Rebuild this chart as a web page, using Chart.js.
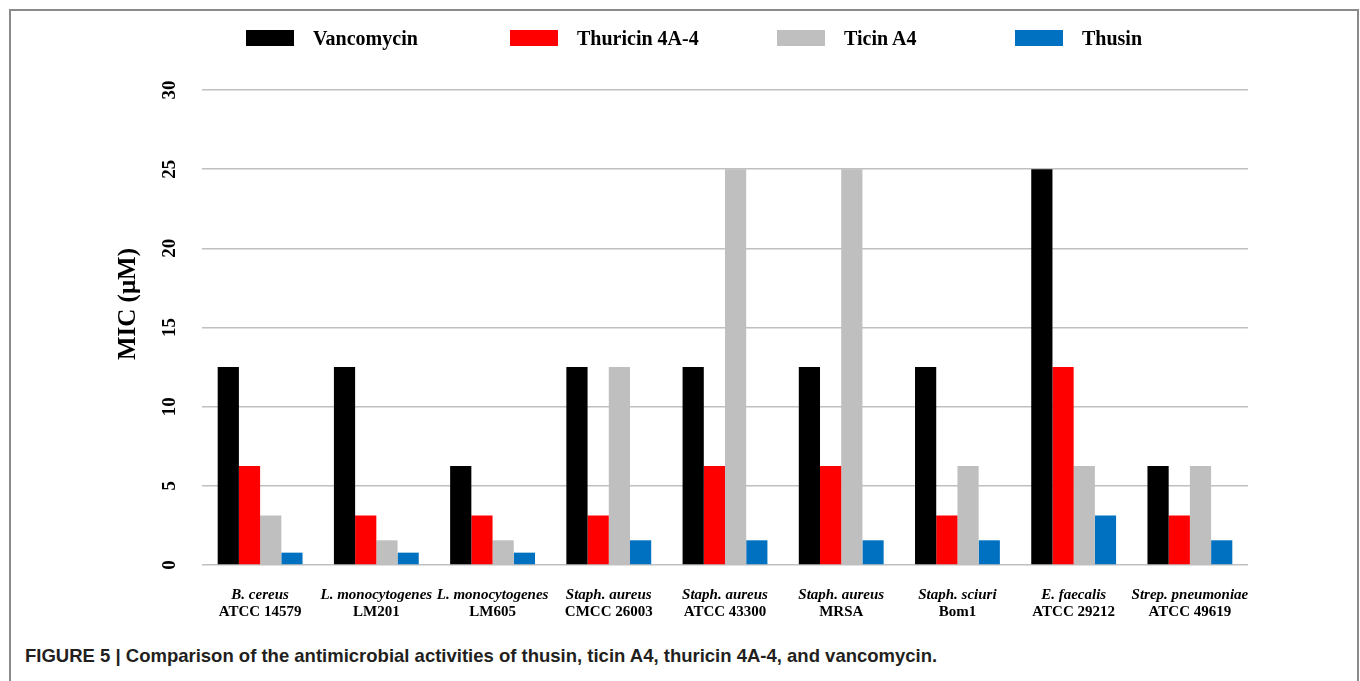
<!DOCTYPE html>
<html>
<head>
<meta charset="utf-8">
<script src="https://cdn.jsdelivr.net/npm/chart.js@4.4.0/dist/chart.umd.min.js"></script>
<style>
    html, body { margin: 0; padding: 0; background: #fff; width: 1360px; height: 681px; overflow: hidden; }
    #frame { position: absolute; left: 9px; top: 9px; width: 1350px; height: 720px; border: 2px solid #8a8a8a; box-sizing: border-box; }
    #chart { position: absolute; left: 0; top: 0; }
    #legend { position: absolute; left: 0; top: 0; width: 1360px; height: 60px; }
    .item { position: absolute; top: 27px; font: bold 20px 'Liberation Serif', 'Times New Roman', serif; color: #000; white-space: nowrap; }
    .item .box { position: absolute; top: 3px; width: 48px; height: 16px; }
    .item .txt { position: absolute; left: 67px; top: 0; line-height: 22px; }
    #caption { position: absolute; left: 25px; top: 645px; font: bold 18.5px 'Liberation Sans', Arial, sans-serif; color: #231f20; white-space: nowrap; }
</style>
</head>
<body>
<div id="frame"></div>
<canvas id="chart" width="1360" height="640"></canvas>
<div id="legend"></div>
<div id="caption">FIGURE 5 | Comparison of the antimicrobial activities of thusin, ticin A4, thuricin 4A-4, and vancomycin.</div>
<script>
// Chart data (MIC, µM)
const species = ['B. cereus', 'L. monocytogenes', 'L. monocytogenes', 'Staph. aureus', 'Staph. aureus',
    'Staph. aureus', 'Staph. sciuri', 'E. faecalis', 'Strep. pneumoniae'];
const strains = ['ATCC 14579', 'LM201', 'LM605', 'CMCC 26003', 'ATCC 43300', 'MRSA', 'Bom1', 'ATCC 29212', 'ATCC 49619'];
const seriesNames = ['Vancomycin', 'Thuricin 4A-4', 'Ticin A4', 'Thusin'];
const vancomycin = [12.5, 12.5, 6.25, 12.5, 12.5, 12.5, 12.5, 25, 6.25];
const thuricin = [6.25, 3.125, 3.125, 3.125, 6.25, 6.25, 3.125, 12.5, 3.125];
const ticin = [3.125, 1.56, 1.56, 12.5, 25, 25, 6.25, 6.25, 6.25];
const thusin = [0.78, 0.78, 0.78, 1.56, 1.56, 1.56, 1.56, 3.125, 1.56];
const yTicks = [0, 5, 10, 15, 20, 25, 30];
const yTitle = 'MIC (μM)';

const colors = ['#000000', '#ff0000', '#bfbfbf', '#0070c0'];
const serif = "'Liberation Serif', 'Times New Roman', serif";

// HTML legend across the top
const legendLeft = [246, 510, 777, 1015];
const legend = document.getElementById('legend');
seriesNames.forEach(function(name, i) {
    const item = document.createElement('div');
    item.className = 'item';
    item.style.left = legendLeft[i] + 'px';
    item.innerHTML = '<span class="box" style="background:' + colors[i] + '"></span><span class="txt">' + name + '</span>';
    legend.appendChild(item);
});

// Rotated y tick labels and axis title
const rotatedYText = {
    id: 'rotatedYText',
    afterDraw: function(chart) {
        const scale = chart.scales.y;
        const ctx = chart.ctx;
        ctx.save();
        ctx.fillStyle = '#000';
        ctx.textAlign = 'center';
        ctx.textBaseline = 'middle';
        ctx.font = 'bold 19px ' + serif;
        yTicks.forEach(function(v) {
            ctx.save();
            ctx.translate(170, scale.getPixelForValue(v));
            ctx.rotate(-Math.PI / 2);
            ctx.fillText(String(v), 0, 0);
            ctx.restore();
        });
        // title sits a little above the axis centre in the original
        ctx.font = 'bold 25px ' + serif;
        ctx.translate(129, 304);
        ctx.rotate(-Math.PI / 2);
        ctx.fillText(yTitle, 0, 0);
        ctx.restore();
    }
};

const data = [vancomycin, thuricin, ticin, thusin];

new Chart(document.getElementById('chart'), {
    type: 'bar',
    data: {
        labels: species,
        datasets: seriesNames.map(function(name, i) {
            return {
                label: name,
                data: data[i],
                backgroundColor: colors[i],
                borderWidth: 0,
                barPercentage: 1,
                categoryPercentage: 0.73
            };
        })
    },
    options: {
        responsive: false,
        animation: false,
        layout: {
            padding: { left: 116, right: 112, top: 90, bottom: 17 }
        },
        plugins: {
            legend: { display: false },
            tooltip: { enabled: false }
        },
        scales: {
            y: {
                min: 0,
                max: 30,
                ticks: { display: false, stepSize: 5 },
                grid: { color: '#c0c0c0', lineWidth: 1.5, drawTicks: false },
                border: { display: false },
                afterFit: function(scale) { scale.width = 86; }
            },
            x: {
                grid: { display: false, drawTicks: false },
                border: { display: false },
                ticks: {
                    padding: 21,
                    color: '#000',
                    maxRotation: 0,
                    autoSkip: false,
                    font: { family: serif, size: 15, weight: 'bold', style: 'italic' }
                },
                afterFit: function(scale) { scale.height = 38; }
            },
            x2: {
                type: 'category',
                labels: strains,
                position: 'bottom',
                grid: { display: false, drawTicks: false },
                border: { display: false },
                ticks: {
                    padding: 0,
                    color: '#000',
                    maxRotation: 0,
                    autoSkip: false,
                    font: { family: serif, size: 15, weight: 'bold' }
                },
                afterFit: function(scale) { scale.height = 20; }
            }
        }
    },
    plugins: [rotatedYText]
});
</script>
</body>
</html>
